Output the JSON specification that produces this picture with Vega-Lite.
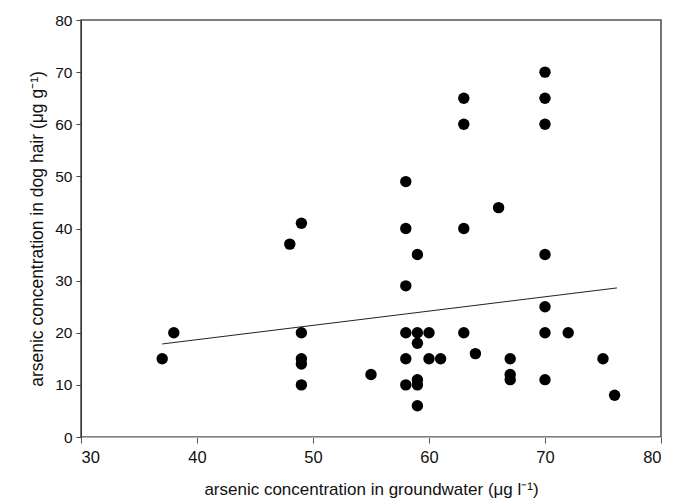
{
  "$schema": "https://vega.github.io/schema/vega-lite/v6.json",
  "autosize": {"type": "none"},
  "width": 580,
  "height": 417,
  "padding": {"left": 81, "top": 20, "right": 12, "bottom": 64},
  "background": "white",
  "config": {
    "view": {"stroke": "#555", "strokeWidth": 1.6},
    "font": "Liberation Sans",
    "axis": {
      "grid": false,
      "domainColor": "#333",
      "tickColor": "#444",
      "tickSize": 5,
      "labelFontSize": 15.5,
      "labelColor": "#111",
      "titleFontSize": 17,
      "titleFontWeight": "normal",
      "titleColor": "#111",
      "labelFont": "Liberation Sans",
      "titleFont": "Liberation Sans"
    }
  },
  "datasets": {
    "pts": [
      {"water": 37, "hair": 15}, {"water": 38, "hair": 20}, {"water": 48, "hair": 37},
      {"water": 49, "hair": 41}, {"water": 49, "hair": 20}, {"water": 49, "hair": 15},
      {"water": 49, "hair": 14}, {"water": 49, "hair": 10}, {"water": 55, "hair": 12},
      {"water": 58, "hair": 49}, {"water": 58, "hair": 40}, {"water": 58, "hair": 29},
      {"water": 58, "hair": 20}, {"water": 58, "hair": 15}, {"water": 58, "hair": 10},
      {"water": 59, "hair": 35}, {"water": 59, "hair": 20}, {"water": 59, "hair": 18},
      {"water": 59, "hair": 11}, {"water": 59, "hair": 10}, {"water": 59, "hair": 6},
      {"water": 60, "hair": 20}, {"water": 60, "hair": 15}, {"water": 61, "hair": 15},
      {"water": 63, "hair": 65}, {"water": 63, "hair": 60}, {"water": 63, "hair": 40},
      {"water": 63, "hair": 20}, {"water": 64, "hair": 16}, {"water": 66, "hair": 44},
      {"water": 67, "hair": 15}, {"water": 67, "hair": 12}, {"water": 67, "hair": 11},
      {"water": 70, "hair": 70}, {"water": 70, "hair": 65}, {"water": 70, "hair": 60},
      {"water": 70, "hair": 35}, {"water": 70, "hair": 25}, {"water": 70, "hair": 20},
      {"water": 70, "hair": 11}, {"water": 72, "hair": 20}, {"water": 75, "hair": 15},
      {"water": 76, "hair": 8}
    ],
    "fit": [
      {"water": 37, "hair": 17.85},
      {"water": 76.2, "hair": 28.6}
    ]
  },
  "layer": [
    {
      "data": {"name": "fit"},
      "mark": {"type": "line", "color": "#222", "strokeWidth": 1},
      "encoding": {
        "x": {"field": "water", "type": "quantitative"},
        "y": {"field": "hair", "type": "quantitative"}
      }
    },
    {
      "data": {"name": "pts"},
      "mark": {"type": "point", "filled": true, "shape": "circle", "size": 130, "color": "black", "opacity": 1},
      "encoding": {
        "x": {
          "field": "water", "type": "quantitative",
          "scale": {"domain": [30, 80], "nice": false, "zero": false},
          "axis": {"values": [30, 40, 50, 60, 70, 80], "title": "arsenic concentration in groundwater (μg l⁻¹)", "titlePadding": 16, "labelPadding": 6, "labelFontSize": 16.5, "domainColor": "#b0b0b0", "tickColor": "#555", "tickSize": 6}
        },
        "y": {
          "field": "hair", "type": "quantitative",
          "scale": {"domain": [0, 80], "nice": false},
          "axis": {"values": [0, 10, 20, 30, 40, 50, 60, 70, 80], "title": "arsenic concentration in dog hair (μg g⁻¹)", "titleFontSize": 17.5, "titlePadding": 8, "labelPadding": 4}
        }
      }
    }
  ]
}
